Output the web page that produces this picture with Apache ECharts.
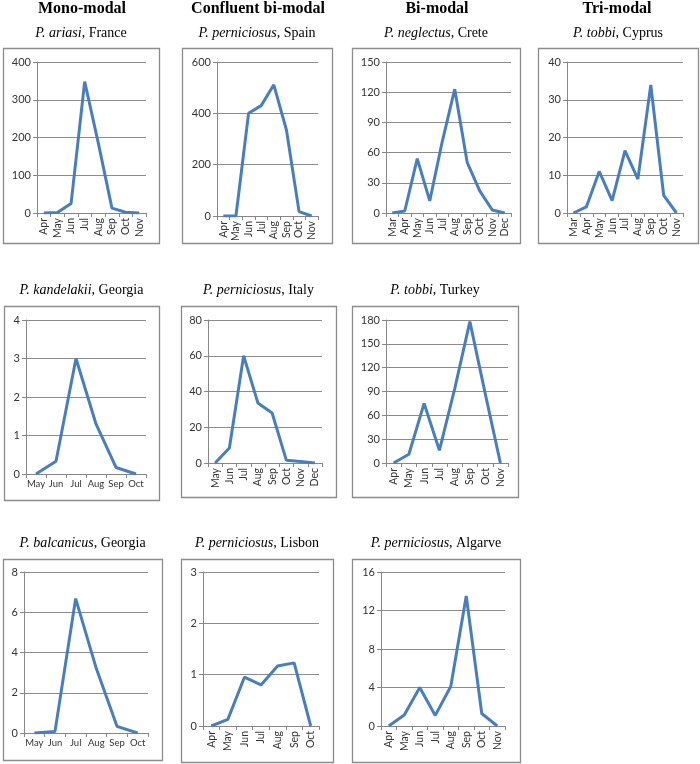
<!DOCTYPE html>
<html><head><meta charset="utf-8">
<script src="https://cdn.jsdelivr.net/npm/echarts@6/dist/echarts.min.js"></script>
<style>html,body{margin:0;padding:0;background:#fff}#c{width:700px;height:764px}</style>
</head><body><div id="c"></div>
<script>
// ---- data ----
const headers = ["Mono-modal", "Confluent bi-modal", "Bi-modal", "Tri-modal"];
const speciesNames = ["P. ariasi", "P. perniciosus", "P. neglectus", "P. tobbi",
  "P. kandelakii", "P. perniciosus", "P. tobbi",
  "P. balcanicus", "P. perniciosus", "P. perniciosus"];
const places = ["France", "Spain", "Crete", "Cyprus", "Georgia", "Italy", "Turkey", "Georgia", "Lisbon", "Algarve"];

const monthsFrance = ["Apr","May","Jun","Jul","Aug","Sep","Oct","Nov"];
const valuesFrance = [0, 1, 25, 348, 185, 13, 2, 0];
const monthsSpain = ["Apr","May","Jun","Jul","Aug","Sep","Oct","Nov"];
const valuesSpain = [0, 0, 400, 430, 511, 335, 17, 0];
const monthsCrete = ["Mar","Apr","May","Jun","Jul","Aug","Sep","Oct","Nov","Dec"];
const valuesCrete = [0, 2, 54, 12, 71, 123, 50, 22, 3, 0];
const monthsCyprus = ["Mar","Apr","May","Jun","Jul","Aug","Sep","Oct","Nov"];
const valuesCyprus = [0, 1.6, 11, 3.3, 16.5, 9, 33.9, 4.7, 0];
const monthsKandelakii = ["May","Jun","Jul","Aug","Sep","Oct"];
const valuesKandelakii = [0, 0.33, 3, 1.3, 0.17, 0];
const monthsItaly = ["May","Jun","Jul","Aug","Sep","Oct","Nov","Dec"];
const valuesItaly = [0, 8.4, 60, 33.6, 28, 1.5, 0.9, 0];
const monthsTurkey = ["Apr","May","Jun","Jul","Aug","Sep","Oct","Nov"];
const valuesTurkey = [0, 11, 75, 16, 93, 178, 88, 0];
const monthsBalcanicus = ["May","Jun","Jul","Aug","Sep","Oct"];
const valuesBalcanicus = [0, 0.08, 6.68, 3.2, 0.33, 0];
const monthsLisbon = ["Apr","May","Jun","Jul","Aug","Sep","Oct"];
const valuesLisbon = [0, 0.13, 0.95, 0.8, 1.17, 1.23, 0];
const monthsAlgarve = ["Apr","May","Jun","Jul","Aug","Sep","Oct","Nov"];
const valuesAlgarve = [0, 1.15, 4.0, 1.1, 4.1, 13.5, 1.3, 0];

const yMax = [400, 600, 150, 40, 4, 80, 180, 8, 3, 16];
const yStep = [100, 200, 30, 10, 1, 20, 30, 2, 1, 4];

const allMonths = [monthsFrance, monthsSpain, monthsCrete, monthsCyprus, monthsKandelakii, monthsItaly, monthsTurkey, monthsBalcanicus, monthsLisbon, monthsAlgarve];
const allValues = [valuesFrance, valuesSpain, valuesCrete, valuesCyprus, valuesKandelakii, valuesItaly, valuesTurkey, valuesBalcanicus, valuesLisbon, valuesAlgarve];

// ---- layout (styles/positions) ----
const boxes = [
  [3,48,159,243],[182,48,332,243],[352,48,520,243],[538,48,698,243],
  [4,306,159,500],[181,306,336,497],[352,306,518,497],
  [3,559,162,760],[181,559,333,762],[352,559,520,762]
];
const grids = [
  [37,62,146,213],[217,62,318,216],[386,62,511,213],[567,62,683,213],
  [26,320,146,474],[208,320,322,463],[386,320,508,463],
  [24,572,148,733],[203,572,319,726],[381,572,505,726]
];
const rotated = [true,true,true,true,false,true,true,false,true,true];
const subtitleY = [33,33,33,33,290,290,290,543,543,543];
const headerX = [82,258,437,617];

const option = {
  animation: false,
  backgroundColor: '#fff',
  grid: [], xAxis: [], yAxis: [], series: [], graphic: []
};
const serif = '"Liberation Serif", "Times New Roman", serif';
const sans = 'Lato, "Open Sans", sans-serif';

headers.forEach((h, i) => {
  option.graphic.push({type:'text', z: 10, silent:true,
    style:{text:h, x: headerX[i], y: 9, textAlign:'center', textVerticalAlign:'middle',
      font:'bold 16px ' + serif, fill:'#000'}});
});

for (let i = 0; i < 10; i++) {
  const b = boxes[i], g = grids[i];
  option.graphic.push({type:'rect', z: 0, silent:true,
    shape:{x:b[0]+0.5, y:b[1]+0.5, width:b[2]-b[0], height:b[3]-b[1]},
    style:{fill:'#fff', stroke:'#8c8c8c', lineWidth:1.3}});
  const cx = (b[0]+b[2])/2;
  option.graphic.push({type:'text', z: 10, silent:true,
    style:{x:cx, y:subtitleY[i], textAlign:'center', textVerticalAlign:'middle',
      rich:{it:{fontStyle:'italic', fontSize:14, fontFamily:serif, fill:'#000'},
            n:{fontSize:14, fontFamily:serif, fill:'#000'}},
      text:'{it|' + speciesNames[i] + '}{n|, ' + places[i] + '}'}});
  option.grid.push({left:g[0], top:g[1], width:g[2]-g[0], height:g[3]-g[1], containLabel:false});
  const xLabel = rotated[i]
    ? {interval:0, hideOverlap:false, rotate:90, fontSize:10.5, fontFamily:sans, color:'#333', margin:5}
    : {interval:0, hideOverlap:false, rotate:0, margin:5,
       formatter: v => '{m|' + v + '}',
       rich:{m:{width:8, align:'center', fontSize:9.5, fontFamily:sans, color:'#333'}}};
  option.xAxis.push({type:'category', gridIndex:i, data: allMonths[i], boundaryGap:true,
    axisLine:{lineStyle:{color:'#868686', width:1}},
    axisTick:{show:true, alignWithLabel:false, interval:0, length:4, lineStyle:{color:'#868686'}},
    axisLabel: xLabel,
    splitLine:{show:false}});
  option.yAxis.push({type:'value', gridIndex:i, min:0, max:yMax[i], interval:yStep[i],
    axisLine:{show:true, lineStyle:{color:'#868686', width:1}},
    axisTick:{show:true, length:4, lineStyle:{color:'#868686'}},
    axisLabel:{fontSize:11, fontFamily:sans, color:'#333', margin:6},
    splitLine:{show:true, lineStyle:{color:'#8c8c8c', width:1}}});
  option.series.push({type:'line', xAxisIndex:i, yAxisIndex:i, data: allValues[i],
    symbol:'none', lineStyle:{color:'#4a7ebb', width:3}, z:5});
}

const chart = echarts.init(document.getElementById('c'), null, {renderer:'canvas'});
chart.setOption(option);
</script>
</body></html>
